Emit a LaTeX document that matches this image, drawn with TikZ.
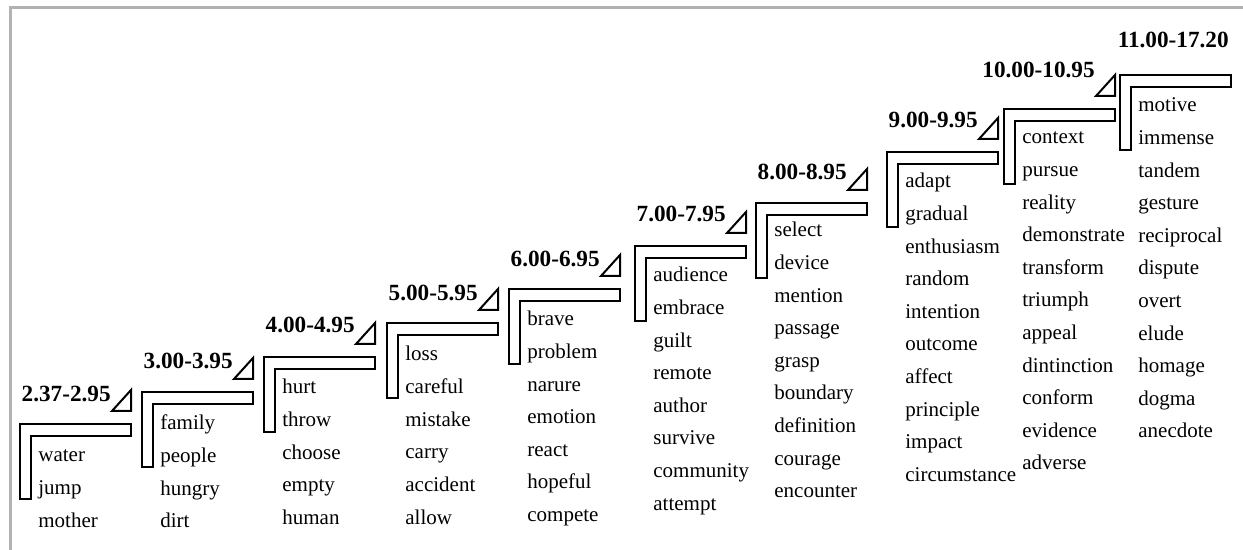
\documentclass[tikz,border=0pt]{standalone}
\usepackage{fontspec}
\setmainfont{Liberation Serif}
\begin{document}
\begin{tikzpicture}[x=0.5pt,y=-0.5pt,
  word/.style={anchor=base west,inner sep=0pt,font=\fontsize{10.5pt}{12pt}\selectfont},
  band/.style={anchor=base east,inner sep=0pt,font=\fontsize{11.6pt}{13pt}\selectfont\bfseries},
  stair/.style={draw=black,line width=1pt,line join=miter},
  frame/.style={draw=black!30,line width=1.5pt}]
\useasboundingbox (0,0) rectangle (1243,550);
% grey frame on the top and left edges
\draw[frame] (10.5,550) -- (10.5,7.5) -- (1243,7.5);
% one stair step per band: the bracket outline and its word list
\foreach \n/\lx/\ty/\fb/\words in {
  1/20/424/462/{water,jump,mother},
  2/142/392/430/{family,people,hungry,dirt},
  3/264/357/394/{hurt,throw,choose,empty,human},
  4/387/323/361/{loss,careful,mistake,carry,accident,allow},
  5/509/289/326/{brave,problem,narure,emotion,react,hopeful,compete},
  6/635/246/282/{audience,embrace,guilt,remote,author,survive,community,attempt},
  7/756/203/237/{select,device,mention,passage,grasp,boundary,definition,courage,encounter},
  8/887/152/188/{adapt,gradual,enthusiasm,random,intention,outcome,affect,principle,impact,circumstance},
  9/1004/109/144/{context,pursue,reality,demonstrate,transform,triumph,appeal,dintinction,conform,evidence,adverse},
  10/1120/75/112/{motive,immense,tandem,gesture,reciprocal,dispute,overt,elude,homage,dogma,anecdote}}
{
  \draw[stair] (\lx,\ty) -- ++(111,0) -- ++(0,12) -- ++(-100,0) -- ++(0,63) -- ++(-11,0) -- cycle;
  \foreach \w [count=\k from 0] in \words
    \node[word] (w\n-\k) at (\lx+18,\fb+\k*32.6) {\w};
}
% range labels with their small triangles
\foreach \n/\lx/\ty/\lb/\lab in {
  1/20/424/402/2.37-2.95,
  2/142/392/369/3.00-3.95,
  3/264/357/333/4.00-4.95,
  4/387/323/301/5.00-5.95,
  5/509/289/267/6.00-6.95,
  6/635/246/222/7.00-7.95,
  7/756/203/180/8.00-8.95,
  8/887/152/128/9.00-9.95,
  9/1004/109/78/10.00-10.95}
{
  \draw[stair] (\lx+92,\ty-13) -- ++(19,0) -- ++(0,-21) -- cycle;
  \node[band] (b\n) at (\lx+91,\lb) {\lab};
}
\node[band] (b10) at (1229,48) {11.00-17.20};
\end{tikzpicture}
\end{document}
